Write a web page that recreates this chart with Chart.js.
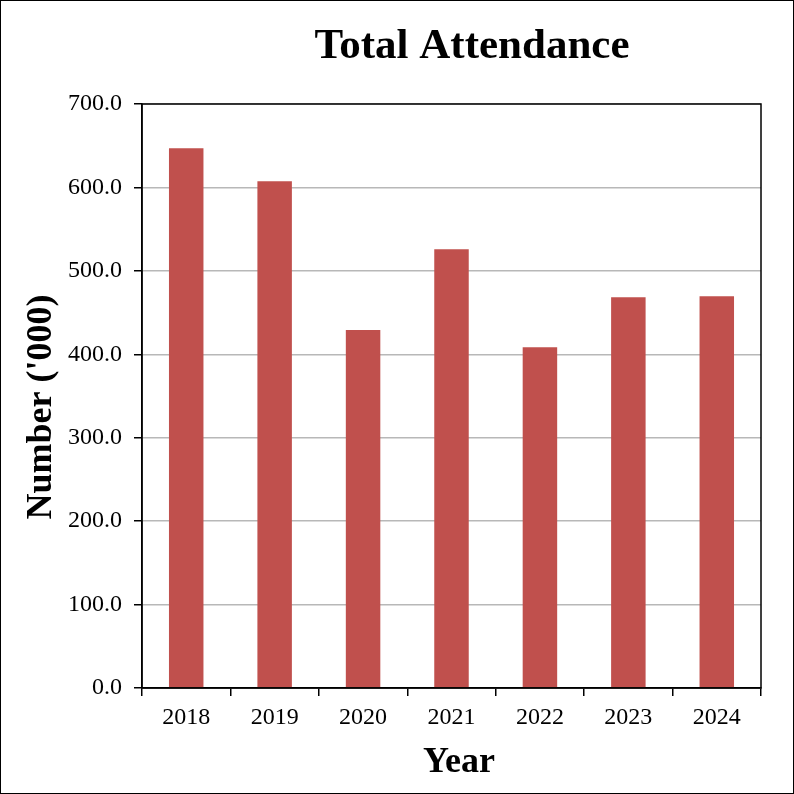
<!DOCTYPE html>
<html>
<head>
<meta charset="utf-8">
<script src="https://cdn.jsdelivr.net/npm/chart.js@4"></script>
<style>
  html, body { margin: 0; padding: 0; background: #fff; }
  #wrap { width: 794px; height: 794px; box-sizing: border-box; border: 1px solid #000; }
  canvas { display: block; }
</style>
</head>
<body>
<div id="wrap"><canvas id="chart" width="792" height="792"></canvas></div>
<script>
// --- data ---
const years = ['2018', '2019', '2020', '2021', '2022', '2023', '2024'];
const attendance = [647.0, 607.5, 429.0, 526.0, 408.5, 468.5, 469.5];
const yTicks = [0, 100, 200, 300, 400, 500, 600, 700];

const serif = '"Liberation Serif", "Times New Roman", serif';

// titles sit off-centre in the original, so draw them ourselves
const titlePlugin = {
    id: 'sheetTitles',
    afterDraw(chart) {
        const ctx = chart.ctx;
        ctx.save();
        ctx.fillStyle = '#000';
        ctx.textAlign = 'center';
        ctx.textBaseline = 'middle';
        ctx.font = 'bold 43px ' + serif;
        ctx.fillText('Total Attendance', 471, 46);
        ctx.font = 'bold 36px ' + serif;
        ctx.fillText('Year', 458, 762);
        ctx.translate(41, 406);
        ctx.rotate(-Math.PI / 2);
        ctx.fillText("Number ('000)", 0, 0);
        ctx.restore();
    }
};

// black frame round the plot area
const framePlugin = {
    id: 'plotFrame',
    afterDatasetsDraw(chart) {
        const a = chart.chartArea;
        const ctx = chart.ctx;
        ctx.save();
        ctx.strokeStyle = '#000';
        ctx.lineWidth = 1.5;
        ctx.strokeRect(a.left, a.top, a.right - a.left, a.bottom - a.top);
        ctx.restore();
    }
};

new Chart(document.getElementById('chart'), {
    type: 'bar',
    data: {
        labels: years,
        datasets: [{
            data: attendance,
            backgroundColor: '#c0504d',
            categoryPercentage: 1,
            barPercentage: 0.39
        }]
    },
    options: {
        responsive: false,
        animation: false,
        layout: { padding: { left: 0, right: 32, top: 103, bottom: 0 } },
        plugins: {
            legend: { display: false },
            tooltip: { enabled: false }
        },
        scales: {
            x: {
                grid: {
                    offset: true,
                    drawOnChartArea: false,
                    color: '#000',
                    lineWidth: 1.5,
                    tickLength: 8
                },
                border: { color: '#000', width: 1.5 },
                ticks: {
                    color: '#000',
                    font: { family: serif, size: 24 },
                    padding: 7,
                    maxRotation: 0
                },
                afterFit(scale) { scale.height = 105; }
            },
            y: {
                min: 0,
                max: 700,
                afterBuildTicks(scale) {
                    scale.ticks = yTicks.map(v => ({ value: v }));
                },
                grid: {
                    color: '#b8b8b8',
                    lineWidth: 1.5,
                    tickColor: '#000',
                    tickLength: 8
                },
                border: { color: '#000', width: 1.5 },
                ticks: {
                    color: '#000',
                    font: { family: serif, size: 24 },
                    padding: 12,
                    callback: v => Number(v).toFixed(1)
                },
                afterFit(scale) { scale.width = 141; }
            }
        }
    },
    plugins: [titlePlugin, framePlugin]
});
</script>
</body>
</html>
